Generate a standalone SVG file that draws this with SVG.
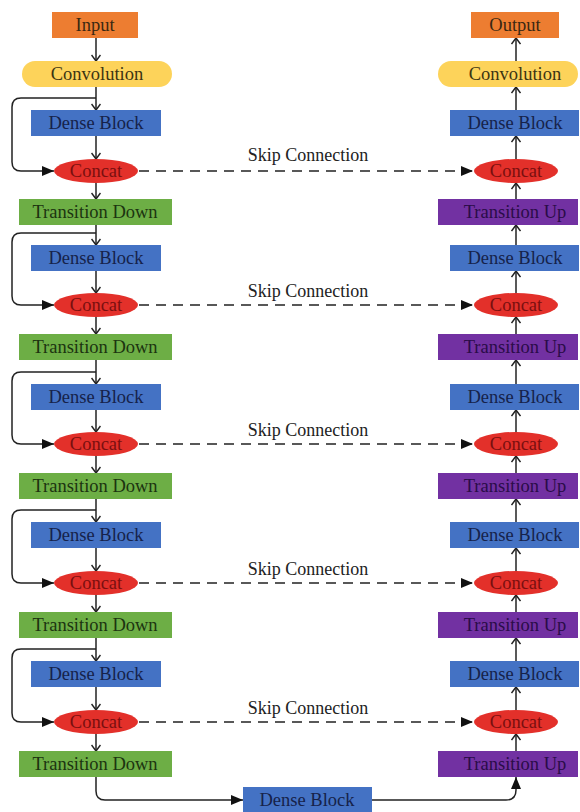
<svg xmlns="http://www.w3.org/2000/svg" width="580" height="812" viewBox="0 0 580 812" font-family="'Liberation Serif', 'DejaVu Serif', 'Times New Roman', serif">
<style>
text{font-size:18.5px;text-anchor:middle}
.in{fill:#ED7D31}.in-t{fill:#3a2812}
.cv{fill:#FDD35A}.cv-t{fill:#3c3412}
.db{fill:#4472C4}.db-t{fill:#16224a}
.cc{fill:#E3302A}.cc-t{fill:#7a0f0f}
.td{fill:#6DAE45}.td-t{fill:#1c3410}
.tu{fill:#7231A2}.tu-t{fill:#2a0c48}
.ln{fill:none;stroke:#222;stroke-width:1.5}
.dl{fill:none;stroke:#222;stroke-width:1.5;stroke-dasharray:10 7}
.sk{fill:#222;font-size:18px}
</style>
<defs>
<marker id="ch" viewBox="0 0 10 10" refX="10" refY="5" markerWidth="10" markerHeight="10" markerUnits="userSpaceOnUse" orient="auto"><path d="M4,0.5 L10,5 L4,9.5" fill="none" stroke="#222" stroke-width="1.5"/></marker>
<marker id="tr" viewBox="0 0 12 10" refX="12" refY="5" markerWidth="12" markerHeight="10" markerUnits="userSpaceOnUse" orient="auto"><path d="M0,0 L12,5 L0,10 z" fill="#111"/></marker>
</defs>

<g id="connectors">
<path class="ln" marker-end="url(#ch)" d="M96,38 V61"/>
<path class="ln" marker-end="url(#ch)" d="M96,87 V110"/>
<path class="ln" marker-end="url(#ch)" d="M96,136 V159"/>
<path class="ln" marker-end="url(#ch)" d="M96,183 V199"/>
<path class="ln" marker-end="url(#ch)" d="M96,225 V245"/>
<path class="ln" marker-end="url(#ch)" d="M96,271 V293"/>
<path class="ln" marker-end="url(#ch)" d="M96,317 V334"/>
<path class="ln" marker-end="url(#ch)" d="M96,360 V384"/>
<path class="ln" marker-end="url(#ch)" d="M96,410 V432"/>
<path class="ln" marker-end="url(#ch)" d="M96,456 V473"/>
<path class="ln" marker-end="url(#ch)" d="M96,499 V522"/>
<path class="ln" marker-end="url(#ch)" d="M96,548 V571"/>
<path class="ln" marker-end="url(#ch)" d="M96,595 V612"/>
<path class="ln" marker-end="url(#ch)" d="M96,638 V661"/>
<path class="ln" marker-end="url(#ch)" d="M96,687 V710"/>
<path class="ln" marker-end="url(#ch)" d="M96,734 V751"/>
<path class="ln" marker-end="url(#tr)" d="M96,98 H21 Q12,98 12,107 V162 Q12,171 21,171 H54"/>
<path class="ln" marker-end="url(#tr)" d="M96,233 H21 Q12,233 12,242 V296 Q12,305 21,305 H54"/>
<path class="ln" marker-end="url(#tr)" d="M96,372 H21 Q12,372 12,381 V435 Q12,444 21,444 H54"/>
<path class="ln" marker-end="url(#tr)" d="M96,510 H21 Q12,510 12,519 V574 Q12,583 21,583 H54"/>
<path class="ln" marker-end="url(#tr)" d="M96,649 H21 Q12,649 12,658 V713 Q12,722 21,722 H54"/>
<path class="dl" marker-end="url(#tr)" d="M139,171 H473"/>
<path class="dl" marker-end="url(#tr)" d="M139,305 H473"/>
<path class="dl" marker-end="url(#tr)" d="M139,444 H473"/>
<path class="dl" marker-end="url(#tr)" d="M139,583 H473"/>
<path class="dl" marker-end="url(#tr)" d="M139,722 H473"/>
<text class="sk" x="308" y="161">Skip Connection</text>
<text class="sk" x="308" y="297">Skip Connection</text>
<text class="sk" x="308" y="436">Skip Connection</text>
<text class="sk" x="308" y="575">Skip Connection</text>
<text class="sk" x="308" y="714">Skip Connection</text>
<path class="ln" marker-end="url(#tr)" d="M96,777 V791 Q96,800 105,800 H243"/>
<path class="ln" marker-end="url(#tr)" d="M372,800 H506 Q516,800 516,790 V777"/>
<path class="ln" marker-end="url(#ch)" d="M516,61 V38"/>
<path class="ln" marker-end="url(#ch)" d="M516,110 V87"/>
<path class="ln" marker-end="url(#ch)" d="M516,159 V136"/>
<path class="ln" marker-end="url(#ch)" d="M516,199 V183"/>
<path class="ln" marker-end="url(#ch)" d="M516,245 V225"/>
<path class="ln" marker-end="url(#ch)" d="M516,293 V271"/>
<path class="ln" marker-end="url(#ch)" d="M516,334 V317"/>
<path class="ln" marker-end="url(#ch)" d="M516,384 V360"/>
<path class="ln" marker-end="url(#ch)" d="M516,432 V410"/>
<path class="ln" marker-end="url(#ch)" d="M516,473 V456"/>
<path class="ln" marker-end="url(#ch)" d="M516,522 V499"/>
<path class="ln" marker-end="url(#ch)" d="M516,571 V548"/>
<path class="ln" marker-end="url(#ch)" d="M516,612 V595"/>
<path class="ln" marker-end="url(#ch)" d="M516,661 V638"/>
<path class="ln" marker-end="url(#ch)" d="M516,710 V687"/>
<path class="ln" marker-end="url(#ch)" d="M516,751 V734"/>
</g>

<g id="input"><rect class="in" x="52" y="12" width="86" height="26"/><text class="in-t" x="95" y="31">Input</text></g>
<g id="conv-l"><rect class="cv" x="22" y="61" width="150" height="26" rx="13"/><text class="cv-t" x="97" y="80">Convolution</text></g>
<g id="db-l1"><rect class="db" x="31" y="110" width="130" height="26"/><text class="db-t" x="96" y="129">Dense Block</text></g>
<g id="cc-l1"><ellipse class="cc" cx="96" cy="171" rx="42" ry="12"/><text class="cc-t" x="96" y="177">Concat</text></g>
<g id="td1"><rect class="td" x="19" y="199" width="153" height="26"/><text class="td-t" x="95" y="218">Transition Down</text></g>
<g id="db-l2"><rect class="db" x="31" y="245" width="130" height="26"/><text class="db-t" x="96" y="264">Dense Block</text></g>
<g id="cc-l2"><ellipse class="cc" cx="96" cy="305" rx="42" ry="12"/><text class="cc-t" x="96" y="311">Concat</text></g>
<g id="td2"><rect class="td" x="19" y="334" width="153" height="26"/><text class="td-t" x="95" y="353">Transition Down</text></g>
<g id="db-l3"><rect class="db" x="31" y="384" width="130" height="26"/><text class="db-t" x="96" y="403">Dense Block</text></g>
<g id="cc-l3"><ellipse class="cc" cx="96" cy="444" rx="42" ry="12"/><text class="cc-t" x="96" y="450">Concat</text></g>
<g id="td3"><rect class="td" x="19" y="473" width="153" height="26"/><text class="td-t" x="95" y="492">Transition Down</text></g>
<g id="db-l4"><rect class="db" x="31" y="522" width="130" height="26"/><text class="db-t" x="96" y="541">Dense Block</text></g>
<g id="cc-l4"><ellipse class="cc" cx="96" cy="583" rx="42" ry="12"/><text class="cc-t" x="96" y="589">Concat</text></g>
<g id="td4"><rect class="td" x="19" y="612" width="153" height="26"/><text class="td-t" x="95" y="631">Transition Down</text></g>
<g id="db-l5"><rect class="db" x="31" y="661" width="130" height="26"/><text class="db-t" x="96" y="680">Dense Block</text></g>
<g id="cc-l5"><ellipse class="cc" cx="96" cy="722" rx="42" ry="12"/><text class="cc-t" x="96" y="728">Concat</text></g>
<g id="td5"><rect class="td" x="19" y="751" width="153" height="26"/><text class="td-t" x="95" y="770">Transition Down</text></g>

<g id="db-bottom"><rect class="db" x="243" y="787" width="129" height="26"/><text class="db-t" x="307" y="806">Dense Block</text></g>

<g id="output"><rect class="in" x="471" y="12" width="88" height="26"/><text class="in-t" x="515" y="31">Output</text></g>
<g id="conv-r"><rect class="cv" x="438" y="61" width="140" height="26" rx="13"/><text class="cv-t" x="515" y="80">Convolution</text></g>
<g id="db-r1"><rect class="db" x="450" y="110" width="129" height="26"/><text class="db-t" x="515" y="129">Dense Block</text></g>
<g id="cc-r1"><ellipse class="cc" cx="516" cy="171" rx="42" ry="12"/><text class="cc-t" x="516" y="177">Concat</text></g>
<g id="tu1"><rect class="tu" x="438" y="199" width="140" height="26"/><text class="tu-t" x="515" y="218">Transition Up</text></g>
<g id="db-r2"><rect class="db" x="450" y="245" width="129" height="26"/><text class="db-t" x="515" y="264">Dense Block</text></g>
<g id="cc-r2"><ellipse class="cc" cx="516" cy="305" rx="42" ry="12"/><text class="cc-t" x="516" y="311">Concat</text></g>
<g id="tu2"><rect class="tu" x="438" y="334" width="140" height="26"/><text class="tu-t" x="515" y="353">Transition Up</text></g>
<g id="db-r3"><rect class="db" x="450" y="384" width="129" height="26"/><text class="db-t" x="515" y="403">Dense Block</text></g>
<g id="cc-r3"><ellipse class="cc" cx="516" cy="444" rx="42" ry="12"/><text class="cc-t" x="516" y="450">Concat</text></g>
<g id="tu3"><rect class="tu" x="438" y="473" width="140" height="26"/><text class="tu-t" x="515" y="492">Transition Up</text></g>
<g id="db-r4"><rect class="db" x="450" y="522" width="129" height="26"/><text class="db-t" x="515" y="541">Dense Block</text></g>
<g id="cc-r4"><ellipse class="cc" cx="516" cy="583" rx="42" ry="12"/><text class="cc-t" x="516" y="589">Concat</text></g>
<g id="tu4"><rect class="tu" x="438" y="612" width="140" height="26"/><text class="tu-t" x="515" y="631">Transition Up</text></g>
<g id="db-r5"><rect class="db" x="450" y="661" width="129" height="26"/><text class="db-t" x="515" y="680">Dense Block</text></g>
<g id="cc-r5"><ellipse class="cc" cx="516" cy="722" rx="42" ry="12"/><text class="cc-t" x="516" y="728">Concat</text></g>
<g id="tu5"><rect class="tu" x="438" y="751" width="140" height="26"/><text class="tu-t" x="515" y="770">Transition Up</text></g>
</svg>
